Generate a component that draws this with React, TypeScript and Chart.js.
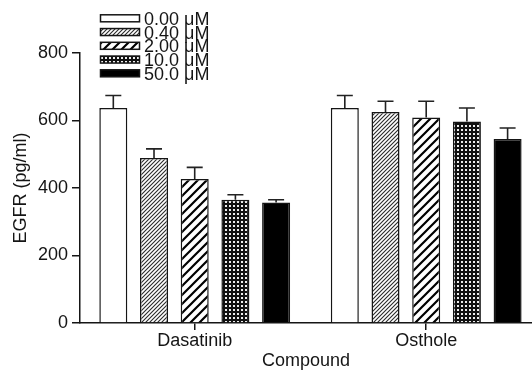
import React, { useEffect, useRef } from 'react';
import { Chart, registerables } from 'chart.js';

Chart.register(...registerables);

const categories = ['Dasatinib', 'Osthole'];
const seriesLabels = ['0.00 μM', '0.40 μM', '2.00 μM', '10.0 μM', '50.0 μM'];
const conc000 = [637, 637];
const conc040 = [489, 625];
const conc200 = [427, 609];
const conc100 = [365, 597];
const conc500 = [357, 545];
const err000 = [37, 37];
const err040 = [27, 32];
const err200 = [34, 48];
const err100 = [15, 40];
const err500 = [8, 33];
const yTicks = [0, 200, 400, 600, 800];

const FONT = '"Liberation Sans", Arial, Helvetica, sans-serif';
const INK = '#151515';

function makeTile(size: number, draw: (c: CanvasRenderingContext2D, s: number) => void) {
  const cv = document.createElement('canvas');
  cv.width = size;
  cv.height = size;
  const c = cv.getContext('2d')!;
  draw(c, size);
  return c.createPattern(cv, 'repeat')!;
}

function diagonal(size: number, lw: number, color: string) {
  return makeTile(size, (c, s) => {
    c.fillStyle = '#ffffff';
    c.fillRect(0, 0, s, s);
    c.strokeStyle = color;
    c.lineWidth = lw;
    c.beginPath();
    for (let k = -1; k <= 1; k++) {
      c.moveTo(k * s - 1, s + 1);
      c.lineTo(k * s + s + 1, -1);
    }
    c.stroke();
  });
}

function checker() {
  return makeTile(4, (c, s) => {
    c.fillStyle = '#111111';
    c.fillRect(0, 0, s, s);
    c.fillStyle = '#eeeeee';
    c.fillRect(1, 1, 2, 2);
  });
}

const errorBarsPlugin = {
  id: 'errorBars',
  afterDatasetsDraw(chart: any) {
    const ctx = chart.ctx;
    const yScale = chart.scales.y;
    chart.data.datasets.forEach((ds: any, di: number) => {
      const meta = chart.getDatasetMeta(di);
      meta.data.forEach((bar: any, i: number) => {
        const v = ds.data[i].y;
        const e = ds.errors[i];
        const yTop = yScale.getPixelForValue(v + e);
        ctx.save();
        ctx.strokeStyle = '#222';
        ctx.lineWidth = 1.6;
        ctx.beginPath();
        ctx.moveTo(bar.x, bar.y);
        ctx.lineTo(bar.x, yTop);
        ctx.moveTo(bar.x - 8, yTop);
        ctx.lineTo(bar.x + 8, yTop);
        ctx.stroke();
        ctx.restore();
      });
    });
  },
};

const customLegendPlugin = {
  id: 'customLegend',
  afterDraw(chart: any) {
    const ctx = chart.ctx;
    const o = chart.options.plugins.customLegend;
    chart.data.datasets.forEach((ds: any, i: number) => {
      const cy = o.y + i * o.step;
      ctx.save();
      ctx.fillStyle = ds.backgroundColor;
      ctx.fillRect(o.x, cy - o.h / 2, o.w, o.h);
      ctx.strokeStyle = INK;
      ctx.lineWidth = 1.5;
      ctx.strokeRect(o.x, cy - o.h / 2, o.w, o.h);
      ctx.fillStyle = INK;
      ctx.font = `${o.size}px ${FONT}`;
      ctx.textBaseline = 'middle';
      ctx.textAlign = 'left';
      ctx.fillText(ds.label, o.textX, cy + 1.5);
      ctx.restore();
    });
  },
};

export default function App() {
  const ref = useRef<HTMLCanvasElement>(null);

  useEffect(() => {
    const canvas = ref.current!;
    const patterns = [
      '#ffffff',
      diagonal(4, 1.1, '#2a2a2a'),
      diagonal(9, 2.2, '#000000'),
      checker(),
      '#000000',
    ];
    const values = [conc000, conc040, conc200, conc100, conc500];
    const errors = [err000, err040, err200, err100, err500];
    const datasets = seriesLabels.map((label, k) => ({
      label,
      data: values[k].map((y, x) => ({ x, y })),
      errors: errors[k],
      backgroundColor: patterns[k],
      borderColor: INK,
      borderWidth: 1.5,
      categoryPercentage: 0.879,
      barPercentage: 0.688,
    }));

    const tickFont = { size: 18, family: FONT };
    const chart = new Chart(canvas, {
      type: 'bar',
      data: { datasets } as any,
      plugins: [errorBarsPlugin, customLegendPlugin],
      options: {
        animation: false,
        responsive: false,
        devicePixelRatio: 1,
        layout: { padding: { top: 53, left: 0, right: 0, bottom: 0 } },
        plugins: {
          legend: { display: false },
          tooltip: { enabled: false },
          customLegend: { x: 100.5, y: 18.3, step: 13.75, w: 39, h: 7, textX: 144, size: 18 },
        } as any,
        scales: {
          x: {
            type: 'linear',
            min: -0.4955,
            max: 1.457,
            offset: false,
            afterBuildTicks: (s: any) => {
              s.ticks = categories.map((_, i) => ({ value: i }));
            },
            afterFit: (s: any) => {
              s.height = 49;
            },
            ticks: {
              callback: (v: any) => categories[Math.round(v)] ?? '',
              font: tickFont,
              color: INK,
              padding: 0,
              maxRotation: 0,
              autoSkip: false,
            },
            grid: { offset: false, drawOnChartArea: false, drawTicks: true, tickLength: 7, color: INK, lineWidth: 1.5 },
            border: { display: true, color: INK, width: 1.5 },
            title: { display: true, text: 'Compound', font: tickFont, color: INK, padding: { top: 0, bottom: 0 } },
          },
          y: {
            min: 0,
            max: 800,
            afterBuildTicks: (s: any) => {
              s.ticks = yTicks.map((v) => ({ value: v }));
            },
            afterFit: (s: any) => {
              s.width = 80;
            },
            ticks: { font: tickFont, color: INK, padding: 4 },
            grid: { drawOnChartArea: false, drawTicks: true, tickLength: 8, color: INK, lineWidth: 1.5 },
            border: { display: true, color: INK, width: 1.5 },
            title: { display: true, text: 'EGFR (pg/ml)', font: tickFont, color: INK, padding: { top: 10, bottom: 0 } },
          },
        } as any,
      },
    });
    return () => chart.destroy();
  }, []);

  return (
    <div style={{ position: 'absolute', left: 0, top: 0, width: 532, height: 372, background: '#fff' }}>
      <canvas ref={ref} width={532} height={372} />
    </div>
  );
}
